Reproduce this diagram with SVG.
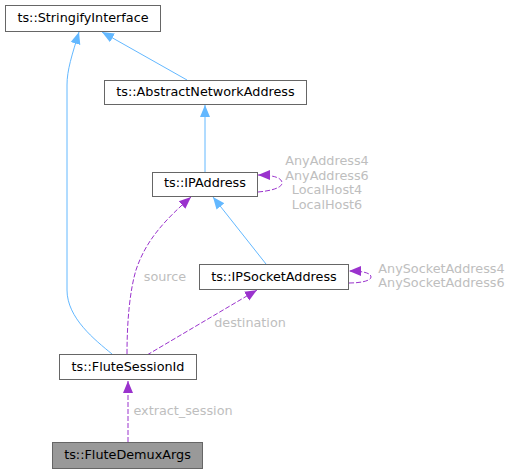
<svg xmlns="http://www.w3.org/2000/svg" width="512" height="473" viewBox="0 0 512 473">
<style>
  .node rect { fill: #ffffff; stroke: #666666; stroke-width: 1; }
  .node.hl rect { fill: #999999; }
  .node text { font-family: "DejaVu Sans", sans-serif; font-size: 12.8px; fill: #000000; text-anchor: middle; }
  .inh { fill: none; stroke: #63b8ff; stroke-width: 1; }
  .use { fill: none; stroke: #9a32cd; stroke-width: 1; stroke-dasharray: 5,2; }
  .lbl { font-family: "DejaVu Sans", sans-serif; font-size: 12.8px; fill: #bebebe; text-anchor: middle; }
</style>
<defs>
  <marker id="ab" markerUnits="userSpaceOnUse" viewBox="0 -6 12 12" refX="12" refY="0" markerWidth="12" markerHeight="12" orient="auto">
    <path d="M0,-5 L12,0 L0,5 Z" fill="#63b8ff" stroke="none"/>
  </marker>
  <marker id="ap" markerUnits="userSpaceOnUse" viewBox="0 -6 12 12" refX="12" refY="0" markerWidth="12" markerHeight="12" orient="auto">
    <path d="M0,-5 L12,0 L0,5 Z" fill="#9a32cd" stroke="none"/>
  </marker>
</defs>
<rect width="512" height="473" fill="#ffffff"/>
<g id="connectors">
  <path class="inh" marker-end="url(#ab)" d="M187,80 L102,32"/>
  <path class="inh" marker-end="url(#ab)" d="M112,354 C95,340 67,318 67,290 L67,85 C67,70 72,55 79,32"/>
  <path class="inh" marker-end="url(#ab)" d="M205,172 L205,105"/>
  <path class="inh" marker-end="url(#ab)" d="M266,264 L213,197"/>
  <path class="use" marker-end="url(#ap)" d="M258,192 C270,191 282,188 282,183 C282,178 274,175 258,175"/>
  <path class="use" marker-end="url(#ap)" d="M349,283 C360,283 371,281 371,277 C371,273 363,271 349,271"/>
  <path class="use" marker-end="url(#ap)" d="M127,354 C127,320 130,290 136,270 C146,240 165,220 191,197"/>
  <path class="use" marker-end="url(#ap)" d="M147,355 L257,290"/>
  <path class="use" marker-end="url(#ap)" d="M128,442 L128,381"/>
  <text class="lbl" x="327" y="165">AnyAddress4</text>
  <text class="lbl" x="327" y="179.5">AnyAddress6</text>
  <text class="lbl" x="327" y="194">LocalHost4</text>
  <text class="lbl" x="327" y="208.5">LocalHost6</text>
  <text class="lbl" x="441.5" y="272.8">AnySocketAddress4</text>
  <text class="lbl" x="441.5" y="287">AnySocketAddress6</text>
  <text class="lbl" x="165" y="280.7">source</text>
  <text class="lbl" x="250" y="326.5">destination</text>
  <text class="lbl" x="183" y="414.5">extract_session</text>
</g>
<g id="node-StringifyInterface" class="node">
  <rect x="5.5" y="5.5" width="155" height="26"/>
  <text x="83" y="22">ts::StringifyInterface</text>
</g>
<g id="node-AbstractNetworkAddress" class="node">
  <rect x="104.5" y="80.5" width="202" height="24"/>
  <text x="205.5" y="96">ts::AbstractNetworkAddress</text>
</g>
<g id="node-IPAddress" class="node">
  <rect x="152.5" y="172.5" width="105" height="24"/>
  <text x="205" y="187.3">ts::IPAddress</text>
</g>
<g id="node-IPSocketAddress" class="node">
  <rect x="199.5" y="264.5" width="149" height="25"/>
  <text x="274" y="280.7">ts::IPSocketAddress</text>
</g>
<g id="node-FluteSessionId" class="node">
  <rect x="59.5" y="354.5" width="137" height="25"/>
  <text x="128" y="371">ts::FluteSessionId</text>
</g>
<g id="node-FluteDemuxArgs" class="node hl">
  <rect x="52.5" y="442.5" width="150" height="26"/>
  <text x="127.5" y="459">ts::FluteDemuxArgs</text>
</g>
</svg>
